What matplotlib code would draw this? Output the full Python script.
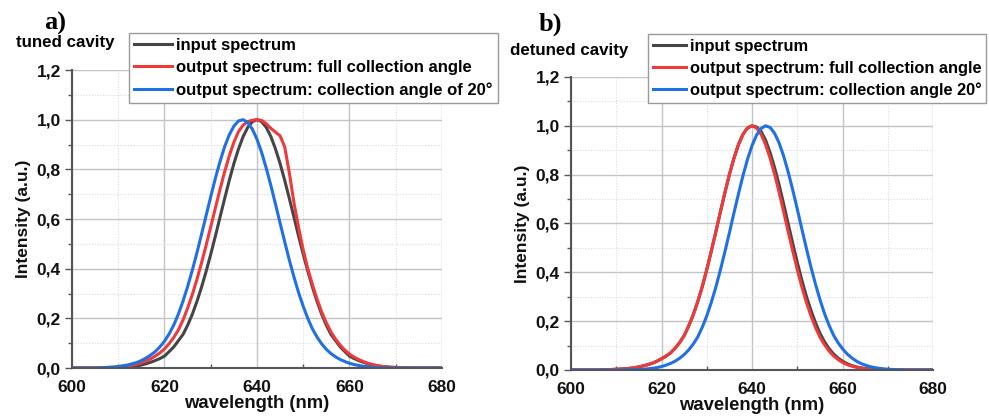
import matplotlib
matplotlib.use("Agg")
import matplotlib.pyplot as plt
from matplotlib.ticker import MultipleLocator

plt.rcParams['font.family'] = ['Liberation Sans', 'DejaVu Sans']

# ---------------- data ----------------
wavelength = list(range(600, 681))  # nm, 1 nm steps (81 points)

# panel a) tuned cavity
a_input = [0, 0, 0, 0, 0, 0, 0, 0,                                   # 600-607
           0.001, 0.001, 0.002, 0.003, 0.004, 0.006, 0.008, 0.012, 0.017, 0.023,  # 608-617
           0.030, 0.038, 0.048, 0.066, 0.085, 0.110, 0.135, 0.172, 0.216, 0.267,  # 618-627
           0.325, 0.389, 0.458, 0.531, 0.607, 0.682, 0.755, 0.823, 0.882, 0.932,  # 628-637
           0.969, 0.992, 1.000, 0.992, 0.969, 0.932, 0.882, 0.823, 0.755, 0.682,  # 638-647
           0.607, 0.531, 0.458, 0.389, 0.325, 0.267, 0.216, 0.172, 0.135, 0.110,  # 648-657
           0.085, 0.066, 0.048, 0.038, 0.030, 0.023, 0.017, 0.012, 0.008, 0.006,  # 658-667
           0.004, 0.003, 0.002, 0.001, 0.001,                                      # 668-672
           0, 0, 0, 0, 0, 0, 0, 0]                                                 # 673-680
a_full = [0, 0, 0, 0, 0, 0,                                                        # 600-605
          0.001, 0.001, 0.002, 0.003,                                              # 606-609
          0.004, 0.006, 0.008, 0.011, 0.015, 0.021, 0.028, 0.037, 0.048, 0.061,    # 610-619
          0.077, 0.098, 0.123, 0.153, 0.193, 0.241, 0.295, 0.356, 0.423, 0.494,    # 620-629
          0.569, 0.644, 0.719, 0.790, 0.854, 0.909, 0.952, 0.978, 0.992, 0.998,    # 630-639
          1.000, 0.997, 0.984, 0.965, 0.950, 0.935, 0.890, 0.785, 0.665, 0.565,    # 640-649
          0.475, 0.400, 0.335, 0.277, 0.225, 0.182, 0.145, 0.116, 0.092, 0.072,    # 650-659
          0.056, 0.044, 0.034, 0.026, 0.019, 0.014, 0.010, 0.007, 0.005, 0.003,    # 660-669
          0.002, 0.001, 0.001,                                                     # 670-672
          0, 0, 0, 0, 0, 0, 0, 0]                                                  # 673-680
a_collect20 = [0, 0, 0, 0, 0, 0,                                                   # 600-605
               0.001, 0.002, 0.003, 0.004,                                         # 606-609
               0.006, 0.009, 0.012, 0.017, 0.022, 0.030, 0.040, 0.052, 0.066, 0.085,  # 610-619
               0.108, 0.137, 0.173, 0.217, 0.269, 0.328, 0.393, 0.463, 0.538, 0.614,  # 620-629
               0.690, 0.764, 0.831, 0.891, 0.939, 0.974, 0.995, 1.000, 0.989, 0.962,  # 630-639
               0.921, 0.868, 0.805, 0.735, 0.660, 0.583, 0.508, 0.434, 0.366, 0.303,  # 640-649
               0.248, 0.199, 0.157, 0.124, 0.097, 0.075, 0.058, 0.045, 0.034, 0.026,  # 650-659
               0.019, 0.014, 0.010, 0.007, 0.005, 0.003, 0.002, 0.001, 0.001,        # 660-668
               0, 0, 0, 0, 0, 0, 0, 0, 0, 0, 0, 0]                                 # 669-680

# panel b) detuned cavity
b_input = [0, 0, 0, 0, 0, 0, 0,                                                    # 600-606
           0.001, 0.001, 0.002,                                                    # 607-609
           0.003, 0.004, 0.005, 0.007, 0.009, 0.013, 0.017, 0.022, 0.028, 0.036,   # 610-619
           0.046, 0.057, 0.070, 0.089, 0.112, 0.141, 0.180, 0.226, 0.280, 0.341,   # 620-629
           0.411, 0.487, 0.566, 0.647, 0.726, 0.801, 0.867, 0.923, 0.965, 0.991,   # 630-639
           1.000, 0.995, 0.977, 0.941, 0.890, 0.828, 0.757, 0.679, 0.598, 0.518,   # 640-649
           0.441, 0.368, 0.303, 0.245, 0.195, 0.151, 0.116, 0.088, 0.066, 0.049,   # 650-659
           0.036, 0.026, 0.018, 0.013, 0.009, 0.006, 0.004, 0.003, 0.002, 0.001,   # 660-669
           0.001,                                                                  # 670
           0, 0, 0, 0, 0, 0, 0, 0, 0, 0]                                           # 671-680
b_full = [0, 0, 0, 0, 0, 0, 0,                                                     # 600-606
          0.001, 0.001, 0.002,                                                     # 607-609
          0.003, 0.004, 0.005, 0.007, 0.009, 0.013, 0.017, 0.022, 0.028, 0.036,    # 610-619
          0.046, 0.057, 0.070, 0.089, 0.112, 0.141, 0.180, 0.226, 0.280, 0.341,    # 620-629
          0.411, 0.487, 0.566, 0.647, 0.726, 0.801, 0.867, 0.923, 0.965, 0.991,    # 630-639
          1.000, 0.991, 0.965, 0.923, 0.867, 0.801, 0.726, 0.647, 0.566, 0.487,    # 640-649
          0.411, 0.341, 0.278, 0.223, 0.175, 0.135, 0.104, 0.078, 0.058, 0.043,    # 650-659
          0.031, 0.022, 0.016, 0.011, 0.008, 0.005, 0.004, 0.003, 0.002, 0.001,    # 660-669
          0.001,                                                                   # 670
          0, 0, 0, 0, 0, 0, 0, 0, 0, 0]                                            # 671-680
b_collect20 = [0, 0, 0, 0, 0, 0, 0, 0, 0, 0, 0, 0,                                 # 600-611
               0.001, 0.001, 0.002, 0.002, 0.003, 0.005, 0.007, 0.010,             # 612-619
               0.014, 0.020, 0.027, 0.036, 0.048, 0.063, 0.082, 0.106, 0.135, 0.175,  # 620-629
               0.222, 0.277, 0.339, 0.409, 0.484, 0.562, 0.643, 0.721, 0.796, 0.863,  # 630-639
               0.919, 0.962, 0.989, 1.000, 0.993, 0.969, 0.929, 0.875, 0.810, 0.737,  # 640-649
               0.659, 0.578, 0.499, 0.423, 0.353, 0.289, 0.232, 0.184, 0.143, 0.112,  # 650-659
               0.087, 0.066, 0.050, 0.037, 0.027, 0.020, 0.014, 0.010, 0.007, 0.005,  # 660-669
               0.003, 0.002, 0.001, 0.001,                                         # 670-673
               0, 0, 0, 0, 0, 0, 0]                                                # 674-680

xticks = [600, 620, 640, 660, 680]
xticklabels = ['600', '620', '640', '660', '680']
yticks = [0.0, 0.2, 0.4, 0.6, 0.8, 1.0, 1.2]
yticklabels = ['0,0', '0,2', '0,4', '0,6', '0,8', '1,0', '1,2']

labels_a = ['input spectrum', 'output spectrum: full collection angle',
            'output spectrum: collection angle of 20°']
labels_b = ['input spectrum', 'output spectrum: full collection angle',
            'output spectrum: collection angle 20°']

C_BLACK = '#454545'
C_RED = '#f03a3a'
C_BLUE = '#1f6fe5'
LW = 2.2

fig = plt.figure(figsize=(9.89, 4.19), dpi=100)
ax_a = fig.add_axes([0.0728, 0.1217, 0.3741, 0.7112])
ax_b = fig.add_axes([0.5774, 0.1170, 0.3660, 0.6993])


def style(ax):
    ax.set_xlim(600, 680)
    ax.set_ylim(0, 1.2)
    ax.set_xticks(xticks)
    ax.set_xticklabels(xticklabels)
    ax.set_yticks(yticks)
    ax.set_yticklabels(yticklabels)
    ax.xaxis.set_minor_locator(MultipleLocator(10))
    ax.yaxis.set_minor_locator(MultipleLocator(0.1))
    ax.grid(which='major', color='#c4c4c4', linewidth=1.0, linestyle='-')
    ax.grid(which='minor', color='#dcdcdc', linewidth=0.8, linestyle=(0, (1, 1.5)))
    ax.set_axisbelow(True)
    for s in ('top', 'right'):
        ax.spines[s].set_visible(False)
    for s in ('left', 'bottom'):
        ax.spines[s].set_color('#555555')
        ax.spines[s].set_linewidth(1.5)
    ax.tick_params(axis='x', which='major', direction='in', length=0, pad=8.5,
                   labelsize=12.5, colors='#555555', labelcolor='#111111')
    ax.tick_params(axis='x', which='minor', direction='in', length=3, width=1,
                   colors='#555555')
    ax.tick_params(axis='y', which='major', direction='out', length=5, width=1,
                   pad=3, labelsize=12.5, colors='#555555', labelcolor='#111111')
    ax.tick_params(axis='y', which='minor', direction='out', length=3, width=1,
                   colors='#555555')
    for lab in ax.get_xticklabels() + ax.get_yticklabels():
        lab.set_fontweight('bold')
    ax.set_xlabel('wavelength (nm)', fontsize=13.3, fontweight='bold', labelpad=0,
                  color='#111111')
    ax.set_ylabel('Intensity (a.u.)', fontsize=12.5, fontweight='bold', labelpad=4,
                  color='#111111')


def legend(ax, handles, labels, anchor, hlen, size):
    leg = ax.legend(handles, labels, loc='upper left', bbox_to_anchor=anchor,
                    borderaxespad=0, prop={'weight': 'bold', 'size': size},
                    fancybox=False, framealpha=1, edgecolor='#9a9a9a',
                    handlelength=hlen, handletextpad=0.25, labelspacing=0.42,
                    borderpad=0.3)
    leg.get_frame().set_linewidth(1.0)


# panel a
la1, = ax_a.plot(wavelength, a_input, color=C_BLACK, lw=LW)
la2, = ax_a.plot(wavelength, a_full, color=C_RED, lw=LW)
la3, = ax_a.plot(wavelength, a_collect20, color=C_BLUE, lw=LW)
style(ax_a)
legend(ax_a, [la1, la2, la3], labels_a, (0.154, 1.124), 2.3, 12.0)

# panel b
lb1, = ax_b.plot(wavelength, b_input, color=C_BLACK, lw=LW)
lb2, = ax_b.plot(wavelength, b_full, color=C_RED, lw=LW)
lb3, = ax_b.plot(wavelength, b_collect20, color=C_BLUE, lw=LW)
style(ax_b)
legend(ax_b, [lb1, lb2, lb3], labels_b, (0.2127, 1.147), 2.0, 11.8)

# panel letters and titles
fig.text(55 / 989, 1 - 23 / 419, 'a)', family='Liberation Serif', fontweight='bold',
         fontsize=19, ha='center', va='center')
fig.text(550 / 989, 1 - 24 / 419, 'b)', family='Liberation Serif', fontweight='bold',
         fontsize=19, ha='center', va='center')
fig.text(16 / 989, 1 - 43 / 419, 'tuned cavity', fontweight='bold', fontsize=12.2,
         ha='left', va='center')
fig.text(510 / 989, 1 - 50 / 419, 'detuned cavity', fontweight='bold', fontsize=12.2,
         ha='left', va='center')

fig.savefig('out.png', dpi=100)
